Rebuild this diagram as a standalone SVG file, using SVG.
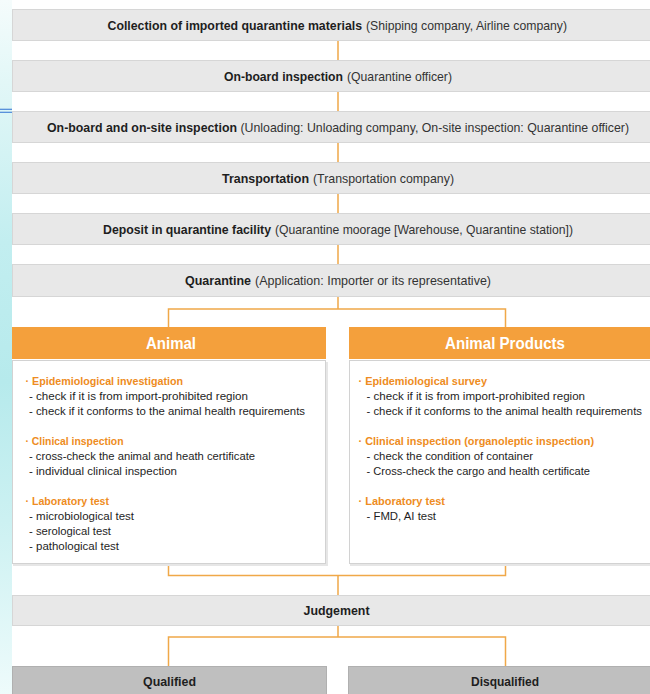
<svg xmlns="http://www.w3.org/2000/svg" width="650" height="694" viewBox="0 0 650 694">
<defs>
<linearGradient id="strip" x1="0" y1="0" x2="0" y2="1">
<stop offset="0" stop-color="#f5fcfc"/>
<stop offset="0.12" stop-color="#e2f7f7"/>
<stop offset="0.35" stop-color="#c2eef0"/>
<stop offset="0.55" stop-color="#b6eaec"/>
<stop offset="0.75" stop-color="#ccf1f2"/>
<stop offset="1" stop-color="#eefbfb"/>
</linearGradient>
<style>
.step{fill:#e8e8e8;stroke:#d6d6d6;stroke-width:1}
.res{fill:#bfbfbf;stroke:#b0b0b0;stroke-width:1}
.hdr{fill:#f4a03c}
.card{fill:#ffffff;stroke:#d2d2d2;stroke-width:1}
.shadow{fill:#e6e6e6}
.t{font-family:"Liberation Sans",Arial,sans-serif;font-size:13px;fill:#333333}
.b{font-weight:bold;fill:#1e1e1e}
.ht{font-family:"Liberation Sans",Arial,sans-serif;font-size:16px;font-weight:bold;fill:#ffffff}
.c{font-family:"Liberation Sans",Arial,sans-serif;font-size:11.6px;fill:#1e1e1e}
.o{font-weight:bold;fill:#ee8c22}
.conn{fill:none;stroke:#f0a848;stroke-width:1.5}
</style>
</defs>
<rect x="0" y="0" width="650" height="694" fill="#ffffff"/>
<rect x="0" y="0" width="12" height="694" fill="url(#strip)"/>
<g id="edge-mark" stroke="#4a86d8" stroke-width="1.2">
<line x1="0" y1="109.3" x2="12" y2="109.3"/>
<line x1="0" y1="112.3" x2="12" y2="112.3"/>
</g>

<g id="connectors" class="conn">
<path d="M338 41V60M338 92V111M338 143V162M338 194V213M338 245V264"/>
<path d="M338 297V309M168.5 327V309H505.5V327"/>
<path d="M168.5 564V575.5H505.5V564M338 575.5V595"/>
<path d="M338 626V637H168.5V666M338 637H505.5V666"/>
</g>

<g id="step1">
<rect class="step" x="12.5" y="9.5" width="660" height="31"/>
<text class="t b" x="107.5" y="29.5" textLength="254.5" lengthAdjust="spacingAndGlyphs">Collection of imported quarantine materials</text>
<text class="t" x="366" y="29.5" textLength="201" lengthAdjust="spacingAndGlyphs">(Shipping company, Airline company)</text>
</g>
<g id="step2">
<rect class="step" x="12.5" y="60.5" width="660" height="31"/>
<text class="t b" x="224" y="80.5" textLength="119" lengthAdjust="spacingAndGlyphs">On-board inspection</text>
<text class="t" x="347" y="80.5" textLength="105" lengthAdjust="spacingAndGlyphs">(Quarantine officer)</text>
</g>
<g id="step3">
<rect class="step" x="12.5" y="111.5" width="660" height="31"/>
<text class="t b" x="47" y="131.5" textLength="190" lengthAdjust="spacingAndGlyphs">On-board and on-site inspection</text>
<text class="t" x="240.5" y="131.5" textLength="388.5" lengthAdjust="spacingAndGlyphs">(Unloading: Unloading company, On-site inspection: Quarantine officer)</text>
</g>
<g id="step4">
<rect class="step" x="12.5" y="162.5" width="660" height="31"/>
<text class="t b" x="222" y="182.5" textLength="87" lengthAdjust="spacingAndGlyphs">Transportation</text>
<text class="t" x="313" y="182.5" textLength="141" lengthAdjust="spacingAndGlyphs">(Transportation company)</text>
</g>
<g id="step5">
<rect class="step" x="12.5" y="213.5" width="660" height="31"/>
<text class="t b" x="103" y="233.5" textLength="168" lengthAdjust="spacingAndGlyphs">Deposit in quarantine facility</text>
<text class="t" x="275" y="233.5" textLength="298" lengthAdjust="spacingAndGlyphs">(Quarantine moorage [Warehouse, Quarantine station])</text>
</g>
<g id="step6">
<rect class="step" x="12.5" y="264.5" width="660" height="32"/>
<text class="t b" x="185" y="285" textLength="66" lengthAdjust="spacingAndGlyphs">Quarantine</text>
<text class="t" x="255" y="285" textLength="236" lengthAdjust="spacingAndGlyphs">(Application: Importer or its representative)</text>
</g>

<g id="animal">
<rect class="hdr" x="12" y="327" width="314" height="32"/>
<text class="ht" x="146" y="348.5" textLength="50" lengthAdjust="spacingAndGlyphs">Animal</text>
<rect class="shadow" x="13" y="362" width="315" height="204"/>
<rect class="card" x="12.5" y="360.5" width="313" height="203"/>
<text class="c o" x="25.5" y="385" textLength="157.5" lengthAdjust="spacingAndGlyphs">· Epidemiological investigation</text>
<text class="c" x="29" y="400" textLength="219" lengthAdjust="spacingAndGlyphs">- check if it is from import-prohibited region</text>
<text class="c" x="29" y="415" textLength="276" lengthAdjust="spacingAndGlyphs">- check if it conforms to the animal health requirements</text>
<text class="c o" x="25.5" y="445" textLength="98" lengthAdjust="spacingAndGlyphs">· Clinical inspection</text>
<text class="c" x="29" y="460" textLength="226" lengthAdjust="spacingAndGlyphs">- cross-check the animal and heath certificate</text>
<text class="c" x="29" y="475" textLength="148" lengthAdjust="spacingAndGlyphs">- individual clinical inspection</text>
<text class="c o" x="25.5" y="505" textLength="83.5" lengthAdjust="spacingAndGlyphs">· Laboratory test</text>
<text class="c" x="29" y="520" textLength="105" lengthAdjust="spacingAndGlyphs">- microbiological test</text>
<text class="c" x="29" y="535" textLength="82" lengthAdjust="spacingAndGlyphs">- serological test</text>
<text class="c" x="29" y="550" textLength="90" lengthAdjust="spacingAndGlyphs">- pathological test</text>
</g>

<g id="animal-products">
<rect class="hdr" x="349" y="327" width="320" height="32"/>
<text class="ht" x="445" y="348.5" textLength="120" lengthAdjust="spacingAndGlyphs">Animal Products</text>
<rect class="shadow" x="350" y="362" width="320" height="204"/>
<rect class="card" x="349.5" y="360.5" width="320" height="203"/>
<text class="c o" x="358.5" y="385" textLength="128.5" lengthAdjust="spacingAndGlyphs">· Epidemiological survey</text>
<text class="c" x="366.5" y="400" textLength="218.5" lengthAdjust="spacingAndGlyphs">- check if it is from import-prohibited region</text>
<text class="c" x="366.5" y="415" textLength="275.5" lengthAdjust="spacingAndGlyphs">- check if it conforms to the animal health requirements</text>
<text class="c o" x="358.5" y="445" textLength="235.5" lengthAdjust="spacingAndGlyphs">· Clinical inspection (organoleptic inspection)</text>
<text class="c" x="366.5" y="460" textLength="166.5" lengthAdjust="spacingAndGlyphs">- check the condition of container</text>
<text class="c" x="366.5" y="475" textLength="223.5" lengthAdjust="spacingAndGlyphs">- Cross-check the cargo and health certificate</text>
<text class="c o" x="358.5" y="505" textLength="86.5" lengthAdjust="spacingAndGlyphs">· Laboratory test</text>
<text class="c" x="366.5" y="520" textLength="69.5" lengthAdjust="spacingAndGlyphs">- FMD, AI test</text>
</g>

<g id="judgement">
<rect class="step" x="12.5" y="595.5" width="660" height="30"/>
<text class="t b" x="303.5" y="615" textLength="66" lengthAdjust="spacingAndGlyphs">Judgement</text>
</g>
<g id="qualified">
<rect class="res" x="12.5" y="666.5" width="314" height="40"/>
<text class="t b" x="143" y="686" textLength="53" lengthAdjust="spacingAndGlyphs">Qualified</text>
</g>
<g id="disqualified">
<rect class="res" x="348.5" y="666.5" width="320" height="40"/>
<text class="t b" x="471" y="686" textLength="68" lengthAdjust="spacingAndGlyphs">Disqualified</text>
</g>
</svg>
